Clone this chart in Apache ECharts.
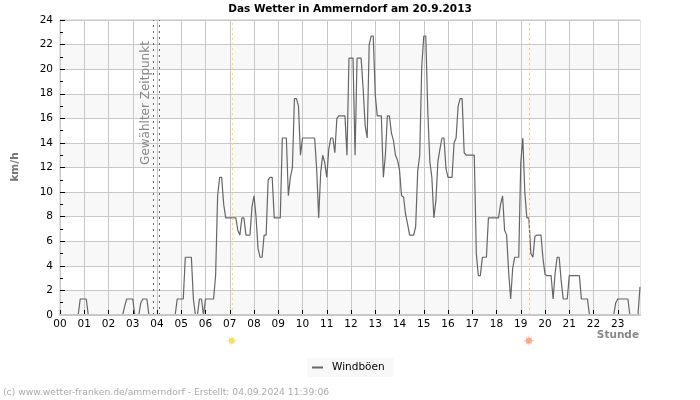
<!DOCTYPE html>
<html>
<head>
<meta charset="utf-8">
<title>Das Wetter in Ammerndorf</title>
<script src="https://cdn.jsdelivr.net/npm/echarts@6/dist/echarts.min.js"></script>
<style>
  html, body { margin: 0; padding: 0; background: #fff; }
  #chart { width: 700px; height: 400px; }
</style>
</head>
<body>
<div id="chart"></div>
<script>
// tick labels
const hourLabels = ['00','01','02','03','04','05','06','07','08','09','10','11','12','13','14','15','16','17','18','19','20','21','22','23'];

// wind gusts in km/h, one value per 5 minutes
const hour00 = [0,0,0,0,0,0,0,0,0,0,1.3,1.3];
const hour01 = [1.3,1.3,0,0,0,0,0,0,0,0,0,0];
const hour02 = [0,0,0,0,0,0,0,0,0.7,1.3,1.3,1.3];
const hour03 = [1.3,0,0,0,1,1.3,1.3,1.3,0,0,0,0];
const hour04 = [0,0,0,0,0,0,0,0,0,0,1.3,1.3];
const hour05 = [1.3,1.3,4.7,4.7,4.7,4.7,1.3,0,0,1.3,1.3,0];
const hour06 = [1.3,1.3,1.3,1.3,1.3,3.2,9.7,11.2,11.2,9,7.9,7.9];
const hour07 = [7.9,7.9,7.9,7.9,6.9,6.5,7.9,7.9,6.5,6.5,6.5,8.8];
const hour08 = [9.7,8,5.4,4.7,4.7,6.5,6.5,11,11.2,11.2,7.9,7.9];
const hour09 = [7.9,7.9,14.4,14.4,14.4,9.7,11.2,12,17.6,17.6,17,13];
const hour10 = [14.4,14.4,14.4,14.4,14.4,14.4,14.4,11.9,7.9,11.6,13,12.4];
const hour11 = [11.2,13.5,14.4,14.4,13.2,16,16.2,16.2,16.2,16.2,13,20.9];
const hour12 = [20.9,20.9,13,20.9,20.9,20.9,18.4,15.4,14.4,22,22.7,22.7];
const hour13 = [17.9,16.2,16.2,16.2,11.2,13,16.2,16.2,14.8,14.2,13,12.6];
const hour14 = [11.8,9.7,9.6,8.2,7.4,6.5,6.5,6.5,7.2,11.7,13,20.2];
const hour15 = [22.7,22.7,16.5,12.5,11.2,7.9,9.3,12.5,13.5,14.4,14.4,11.9];
const hour16 = [11.2,11.2,11.2,14,14.4,17,17.6,17.6,13.2,13,13,13];
const hour17 = [13,13,5,3.2,3.2,4.7,4.7,4.7,7.9,7.9,7.9,7.9];
const hour18 = [7.9,7.9,9,9.7,6.9,6.5,3.5,1.3,3.8,4.7,4.7,4.7];
const hour19 = [12.4,14.4,10,7.9,7.9,5,4.7,6.4,6.5,6.5,6.5,4.6];
const hour20 = [3.3,3.2,3.2,3.2,1.3,3.4,4.7,4.7,2.8,1.3,1.3,1.3];
const hour21 = [3.2,3.2,3.2,3.2,3.2,3.2,1.3,1.3,1.3,1.3,0,0];
const hour22 = [0,0,0,0,0,0,0,0,0,0,0,1];
const hour23 = [1.3,1.3,1.3,1.3,1.3,1.3,0,0,0,0,0,2.3];

const gustValues = [].concat(hour00,hour01,hour02,hour03,hour04,hour05,hour06,hour07,hour08,hour09,hour10,hour11,
  hour12,hour13,hour14,hour15,hour16,hour17,hour18,hour19,hour20,hour21,hour22,hour23);

// sample index of the marked times
const selectedTime = [46, 49];
const sunrise = 85;
const sunset = 232;

const categories = [];
hourLabels.forEach(function (h) {
  for (let m = 0; m < 60; m += 5) {
    categories.push(h + ':' + String(m).padStart(2, '0'));
  }
});

const FONT = 'DejaVu Sans';
const sunPath = 'path://M12 0L13.5 8L19 3L16 10L24 12L16 14L19 21L13.5 16L12 24L10.5 16L5 21L8 14L0 12L8 10L5 3L10.5 8Z';

function hourTick(index) {
  return index % 12 === 0;
}

function sunSeries(index, rayColor, coreColor) {
  // below the axis, so they need clip off
  return [
    { type: 'scatter', clip: false, silent: true, symbol: sunPath, symbolSize: 12, itemStyle: { color: rayColor, opacity: 1 }, data: [[index, -2.1]] },
    { type: 'scatter', clip: false, silent: true, symbol: 'circle', symbolSize: 6, itemStyle: { color: coreColor, opacity: 1 }, data: [[index, -2.1]] }
  ];
}

const chart = echarts.init(document.getElementById('chart'), null, { renderer: 'canvas' });

chart.setOption({
  animation: false,
  backgroundColor: '#fff',
  textStyle: { fontFamily: FONT },
  title: {
    text: 'Das Wetter in Ammerndorf am 20.9.2013',
    left: 345,
    top: -1,
    textAlign: 'center',
    textStyle: { fontFamily: FONT, fontSize: 10.5, fontWeight: 'bold', color: '#000' }
  },
  grid: { left: 60, right: 60, top: 20, bottom: 85, show: true, borderColor: '#c8c8c8', borderWidth: 1, backgroundColor: 'transparent' },
  legend: {
    left: 307,
    top: 358,
    padding: [4, 9, 4, 5],
    backgroundColor: '#f8f8f8',
    itemWidth: 11,
    itemHeight: 2,
    itemGap: 0,
    icon: 'rect',
    data: ['Windböen'],
    textStyle: { fontFamily: FONT, fontSize: 10.5, color: '#000', padding: [0, 0, 0, 4] }
  },
  xAxis: [{
    type: 'category',
    data: categories,
    boundaryGap: false,
    axisLine: { show: false },
    axisTick: { show: true, inside: true, length: 5, interval: hourTick, lineStyle: { color: '#000' } },
    axisLabel: {
      interval: hourTick,
      margin: 4,
      fontFamily: FONT,
      fontSize: 10.5,
      color: '#000',
      formatter: function (value) { return value.slice(0, 2); }
    },
    splitLine: { show: true, interval: hourTick, lineStyle: { color: '#c8c8c8', width: 1 } }
  }, {
    // the reference shows no line along the baseline where the gusts are 0, this covers it
    type: 'category',
    data: categories,
    boundaryGap: false,
    position: 'bottom',
    z: 5,
    axisLine: { show: true, lineStyle: { color: '#c8c8c8', width: 2 } },
    axisTick: { show: false },
    axisLabel: { show: false },
    splitLine: { show: false }
  }],
  yAxis: {
    type: 'value',
    min: 0,
    max: 24,
    interval: 2,
    axisLine: { show: true, lineStyle: { color: '#c8c8c8' } },
    axisTick: { show: true, inside: true, length: 5, lineStyle: { color: '#000' } },
    minorTick: { show: true, splitNumber: 2, length: 3, lineStyle: { color: '#000' } },
    axisLabel: { margin: 7, fontFamily: FONT, fontSize: 10.5, color: '#000' },
    splitLine: { show: true, lineStyle: { color: '#c8c8c8', width: 1 } },
    splitArea: { show: true, areaStyle: { color: ['#f8f8f8', '#ffffff'] } }
  },
  series: [{
    name: 'Windböen',
    type: 'line',
    data: gustValues,
    showSymbol: false,
    symbol: 'none',
    clip: false,
    itemStyle: { color: '#666' },
    lineStyle: { color: '#666', width: 1.2 },
    markLine: {
      silent: true,
      symbol: 'none',
      label: { show: false },
      data: [
        { xAxis: selectedTime[0], lineStyle: { color: '#666', type: [2, 4], width: 1 } },
        { xAxis: selectedTime[1], lineStyle: { color: '#666', type: [2, 4], width: 1 } },
        { xAxis: sunrise, lineStyle: { color: '#f5ea3c', type: [2, 3], width: 1 } },
        { xAxis: sunset, lineStyle: { color: '#f0c878', type: [2, 3], width: 1 } }
      ]
    }
  }].concat(sunSeries(sunrise, '#fdeeb0', '#fcdc70'), sunSeries(sunset, '#fbc4b0', '#fba888')),
  graphic: [
    {
      type: 'text', z: 10, x: 146, y: 103, rotation: Math.PI / 2,
      style: { text: 'Gewählter Zeitpunkt', fill: '#888', font: '12px "DejaVu Sans"', textAlign: 'center', textVerticalAlign: 'middle' }
    },
    {
      type: 'text', z: 10, x: 15, y: 167, rotation: Math.PI / 2,
      style: { text: 'km/h', fill: '#777', font: 'bold 10.5px "DejaVu Sans"', textAlign: 'center', textVerticalAlign: 'middle' }
    },
    {
      type: 'text', z: 10, x: 639, y: 335,
      style: { text: 'Stunde', fill: '#888', font: 'bold 10.5px "DejaVu Sans"', textAlign: 'right', textVerticalAlign: 'middle' }
    },
    {
      type: 'text', z: 10, x: 3, y: 393,
      style: { text: '(c) www.wetter-franken.de/ammerndorf - Erstellt: 04.09.2024 11:39:06', fill: '#aaa', font: '9.2px "DejaVu Sans"', textAlign: 'left', textVerticalAlign: 'middle' }
    }
  ]
});
</script>
</body>
</html>
